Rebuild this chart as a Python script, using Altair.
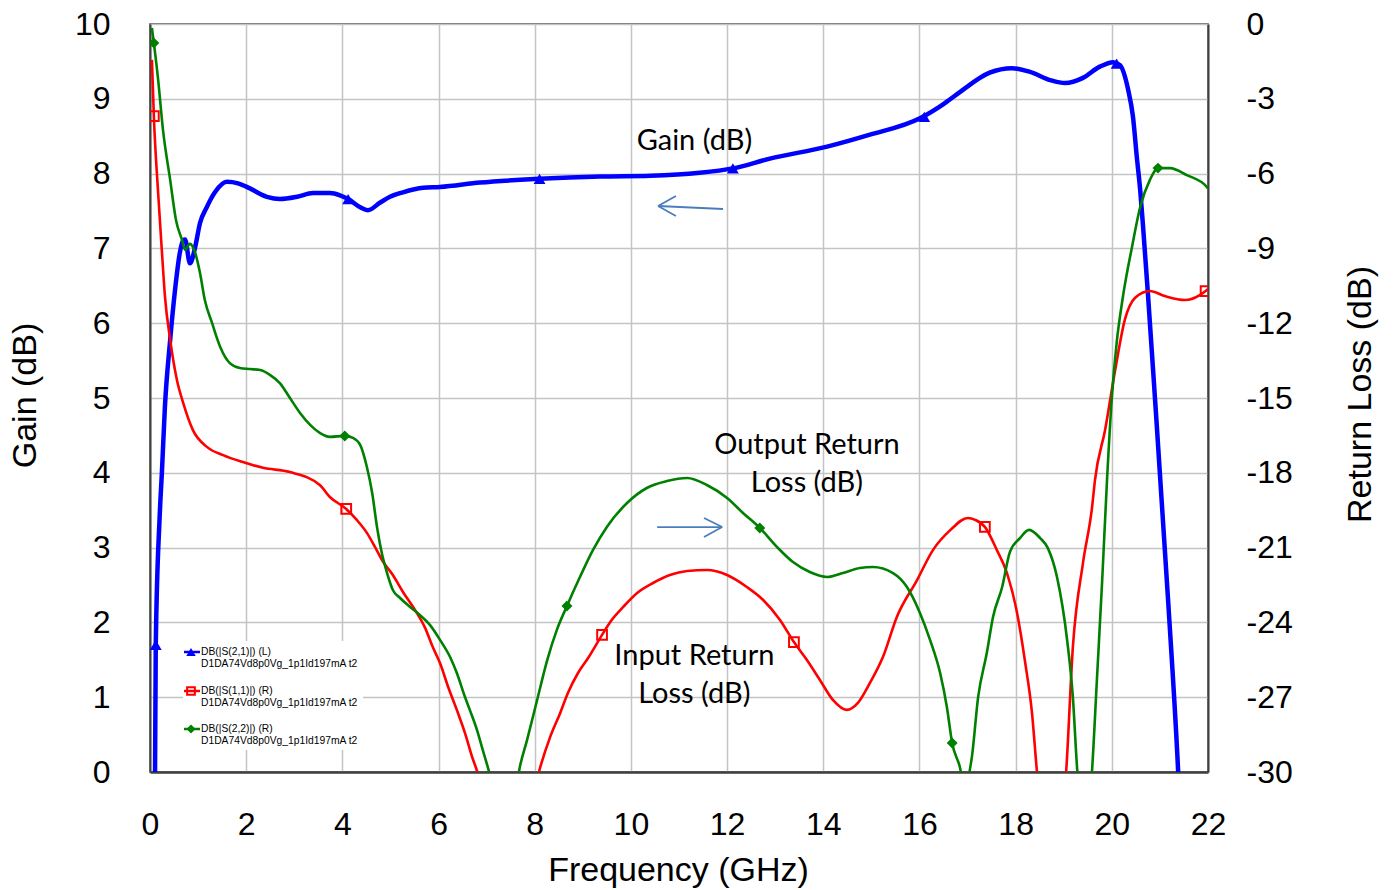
import altair as alt
import pandas as pd

# ---------------- data ----------------
s21_f = [0.10, 0.12, 0.20, 0.25, 0.31, 0.42, 0.52, 0.62, 0.69, 0.73, 0.83, 0.94, 1.04, 1.18, 1.35,
         1.60, 1.83, 2.02, 2.43, 2.70, 3.06, 3.39, 3.74, 3.95, 4.12, 4.37, 4.53, 4.78, 4.99, 5.26,
         5.68, 6.03, 6.86, 8.10, 9.36, 10.40, 11.43, 12.12, 12.89, 14.08, 14.97, 16.01, 16.50, 16.84,
         17.46, 17.92, 18.30, 18.72, 19.03, 19.40, 19.75, 20.03, 20.17, 20.34, 20.44, 20.52, 20.59,
         20.65, 20.75, 20.90, 21.17, 21.38, 21.45]
s21_db = [-0.5, 1.7, 3.4, 4.04, 4.88, 5.78, 6.44, 6.94, 7.11, 7.12, 6.80, 7.02, 7.34, 7.55, 7.75,
          7.89, 7.87, 7.82, 7.69, 7.66, 7.69, 7.74, 7.74, 7.71, 7.66, 7.55, 7.51, 7.61, 7.69, 7.75,
          7.81, 7.82, 7.88, 7.93, 7.96, 7.97, 8.01, 8.07, 8.20, 8.36, 8.52, 8.74, 8.93, 9.09,
          9.35, 9.41, 9.36, 9.25, 9.21, 9.28, 9.43, 9.49, 9.45, 9.12, 8.76, 8.22, 7.78,
          7.29, 6.40, 4.97, 2.30, 0.0, -1.0]

s11_f = [0.04, 0.08, 0.17, 0.25, 0.31, 0.42, 0.56, 0.69, 0.89, 1.19, 1.52, 1.93, 2.35, 2.91, 3.53,
         3.74, 4.08, 4.30, 4.51, 4.68, 4.85, 5.05, 5.26, 5.51, 5.72, 5.88, 6.03, 6.20, 6.38, 6.55,
         6.72, 6.78, 6.95, 7.40, 7.90, 8.11, 8.32, 8.53, 8.69, 8.90, 9.11, 9.40, 9.57, 9.84, 10.13,
         10.46, 10.81, 11.17, 11.58, 12.00, 12.41, 12.75, 13.10, 13.39, 13.66, 13.93, 14.20, 14.49,
         14.72, 14.97, 15.24, 15.53, 15.95, 16.28, 16.64, 17.01, 17.16, 17.36, 17.61, 17.82, 18.03,
         18.20, 18.34, 18.44, 18.60, 18.90, 19.05, 19.19, 19.40, 19.59, 19.65, 19.86, 20.07, 20.27,
         20.48, 20.79, 21.10, 21.52, 21.83, 21.95, 22.0]
s11_db = [-1.44, -3.69, -6.8, -9.2, -10.9, -12.67, -14.28, -15.2, -16.28, -16.97, -17.29, -17.57,
          -17.8, -17.97, -18.49, -18.97, -19.45, -19.89, -20.41, -20.98, -21.58, -22.1, -22.78, -23.5,
          -24.22, -24.99, -25.63, -26.59, -27.51, -28.44, -29.52, -29.84, -31.0, -33.5, -31.5, -29.84,
          -28.6, -27.63, -26.83, -26.03, -25.43, -24.5, -23.98, -23.38, -22.82, -22.42, -22.1, -21.94,
          -21.9, -22.1, -22.58, -23.1, -23.9, -24.79, -25.51, -26.31, -27.11, -27.51, -27.23, -26.43,
          -25.39, -23.78, -22.30, -21.10, -20.30, -19.81, -19.89, -20.17, -21.10, -22.02, -23.62,
          -25.63, -27.63, -29.92, -33.0, -33.0, -30.0, -24.99, -21.62, -19.37, -18.29, -16.28, -13.88,
          -11.87, -10.99, -10.71, -10.91, -11.07, -10.87, -10.71, -10.63]

s22_f = [0.04, 0.08, 0.17, 0.27, 0.42, 0.54, 0.665, 0.73, 0.83, 0.94, 1.04, 1.14, 1.29, 1.46, 1.66,
         1.87, 2.08, 2.29, 2.50, 2.70, 2.91, 3.12, 3.33, 3.53, 3.74, 4.05, 4.22, 4.37, 4.51, 4.62,
         4.72, 4.82, 4.93, 5.05, 5.20, 5.41, 5.61, 5.82, 6.03, 6.24, 6.38, 6.55, 6.65, 6.80, 6.92,
         7.03, 7.20, 7.50, 7.69, 7.84, 8.05, 8.26, 8.46, 8.67, 8.94, 9.21, 9.50, 9.92, 10.33, 10.75,
         11.17, 11.58, 12.00, 12.33, 12.68, 13.04, 13.37, 13.72, 14.08, 14.41, 14.76, 15.03, 15.45,
         15.74, 16.01, 16.22, 16.43, 16.57, 16.68, 16.84, 16.93, 17.09, 17.22, 17.40, 17.53, 17.72,
         17.88, 18.09, 18.28, 18.51, 18.67, 18.86, 19.07, 19.19, 19.28, 19.40, 19.50, 19.59, 19.69,
         19.80, 19.90, 20.00, 20.10, 20.23, 20.42, 20.59, 20.79, 20.96, 21.21, 21.56, 21.98, 22.0]
s22_db = [-0.16, -0.76, -2.25, -4.25, -6.26, -7.86, -8.66, -9.06, -8.82, -9.18, -9.99, -11.07,
          -11.99, -12.95, -13.6, -13.8, -13.84, -13.88, -14.08, -14.4, -15.0, -15.6, -16.08, -16.4,
          -16.56, -16.52, -16.6, -16.88, -17.77, -18.81, -20.17, -21.22, -22.02, -22.7, -23.02,
          -23.38, -23.7, -24.1, -24.7, -25.39, -26.03, -26.99, -27.51, -28.32, -29.12, -29.84, -31.0,
          -32.0, -29.8, -28.72, -27.11, -25.51, -24.3, -23.34, -22.18, -21.1, -20.17, -19.21, -18.61,
          -18.33, -18.21, -18.49, -19.01, -19.61, -20.21, -20.98, -21.58, -21.98, -22.18, -22.02,
          -21.82, -21.78, -22.02, -22.58, -23.62, -24.7, -26.03, -27.39, -28.84, -29.8, -30.6, -29.4,
          -27.0, -25.23, -23.78, -22.58, -21.18, -20.62, -20.29, -20.62, -21.02, -22.18, -24.7, -27.0,
          -29.9, -32.0, -32.0, -29.9, -26.3, -22.3, -18.3, -15.0, -12.8, -10.95, -8.94, -7.34, -6.26,
          -5.78, -5.78, -6.06, -6.54, -6.6]

# marker positions
m21_f = [0.12, 4.12, 8.10, 12.12, 16.10, 20.10]
m21_db = [1.70, 7.66, 7.93, 8.07, 8.76, 9.47]
m11_f = [0.08, 4.08, 9.40, 13.39, 17.36, 21.95]
m11_db = [-3.69, -19.45, -24.50, -24.79, -20.17, -10.71]
m22_f = [0.08, 4.05, 8.67, 12.68, 16.68, 20.96]
m22_db = [-0.76, -16.52, -23.34, -20.21, -28.84, -5.78]

# annotation text (gain-axis units)
note_text = ["Gain (dB)", "Output Return", "Loss (dB)", "Input Return", "Loss (dB)"]
note_f = [11.32, 13.66, 13.66, 11.32, 11.32]
note_g = [8.316, 4.251, 3.743, 1.430, 0.922]

# arrows (gain-axis units), each segment two points
arrow_seg = ["a1", "a1", "a2", "a2", "a3", "a3", "b1", "b1", "b2", "b2", "b3", "b3"]
arrow_f = [11.915, 10.565, 10.565, 10.936, 10.565, 10.936,
           10.546, 11.898, 11.898, 11.52, 11.898, 11.52]
arrow_g = [7.527, 7.567, 7.567, 7.701, 7.567, 7.433,
           3.275, 3.275, 3.275, 3.396, 3.275, 3.142]

legend_name = ["DB(|S(2,1)|) (L)", "DB(|S(1,1)|) (R)", "DB(|S(2,2)|) (R)"]
legend_sub = "D1DA74Vd8p0Vg_1p1Id197mA t2"
x_ticks = list(range(0, 23, 2))
gain_ticks = list(range(0, 11))
rl_ticks = list(range(-30, 1, 3))

BLUE, RED, GREEN = "#0000ff", "#ff0000", "#008000"
FONT = "Liberation Sans"

df21 = pd.DataFrame({"f": s21_f, "v": s21_db})
df11 = pd.DataFrame({"f": s11_f, "v": s11_db})
df22 = pd.DataFrame({"f": s22_f, "v": s22_db})
dm21 = pd.DataFrame({"f": m21_f, "v": m21_db})
dm11 = pd.DataFrame({"f": m11_f, "v": m11_db})
dm22 = pd.DataFrame({"f": m22_f, "v": m22_db})
dnote = pd.DataFrame({"f": note_f, "v": note_g, "t": note_text})
darrow = pd.DataFrame({"f": arrow_f, "v": arrow_g, "s": arrow_seg})

x_enc = alt.X("f:Q", scale=alt.Scale(domain=[0, 22], nice=False, zero=False),
              axis=alt.Axis(values=x_ticks, title="Frequency (GHz)", grid=True, ticks=False,
                            tickSize=0, labelPadding=37, labelFontSize=32, labelFont=FONT,
                            labelColor="black", titleFont=FONT, titleFontSize=34,
                            titleFontWeight="normal", titleColor="black", titleX=528, titleY=98,
                            titleBaseline="middle", titleAlign="center",
                            domainColor="#404040", domainWidth=2.5,
                            gridColor="#c4c4c4", gridWidth=1.5, labelFlush=False))

y_gain = alt.Y("v:Q", scale=alt.Scale(domain=[0, 10], nice=False, zero=False),
               axis=alt.Axis(orient="left", values=gain_ticks, title="Gain (dB)", grid=True,
                             ticks=False, tickSize=0, labelPadding=40, labelFontSize=32,
                             labelFont=FONT, labelColor="black", titleFont=FONT, titleFontSize=34,
                             titleFontWeight="normal", titleColor="black", titleAngle=270,
                             titleX=-125, titleY=371, titleBaseline="middle", titleAlign="center",
                             domainColor="#404040", domainWidth=2,
                             gridColor="#c4c4c4", gridWidth=1.5, labelFlush=False))

y_rl = alt.Y("v:Q", scale=alt.Scale(domain=[-30, 0], nice=False, zero=False),
             axis=alt.Axis(orient="right", values=rl_ticks, title="Return Loss (dB)", grid=False,
                           ticks=False, tickSize=0, labelPadding=38, labelFontSize=32,
                           labelExpr="'' + datum.value",
                           labelFont=FONT, labelColor="black", titleFont=FONT, titleFontSize=34,
                           titleFontWeight="normal", titleColor="black", titleAngle=270,
                           titleX=152, titleY=370, titleBaseline="middle", titleAlign="center",
                           domainColor="#404040", domainWidth=2, labelFlush=False))

# ---------------- gain layer ----------------
legend_bg = alt.Chart(pd.DataFrame({"k": [0]})).mark_rect(fill="white").encode(
    x=alt.value(33), x2=alt.value(213), y=alt.value(617), y2=alt.value(726))

blue_line = alt.Chart(df21).mark_line(color=BLUE, strokeWidth=4.5, clip=True,
                                      interpolate="monotone").encode(x=x_enc, y=y_gain)
blue_pts = alt.Chart(dm21).mark_point(shape="triangle-up", filled=True, opacity=1, size=140,
                                      color=BLUE, clip=True).encode(x=x_enc, y=y_gain)
notes = alt.Chart(dnote).mark_text(font="Lato", fontSize=29, align="center",
                                   baseline="alphabetic", color="black").encode(
    x=x_enc, y=y_gain, text="t:N")
arrows = alt.Chart(darrow).mark_line(color="#4a7ebb", strokeWidth=1.8).encode(
    x=x_enc, y=y_gain, detail="s:N")

gain_layer = alt.layer(legend_bg, blue_line, blue_pts, notes, arrows)

# ---------------- return-loss layer ----------------
red_line = alt.Chart(df11).mark_line(color=RED, strokeWidth=2.6, clip=True,
                                     interpolate="monotone").encode(x=x_enc, y=y_rl)
red_pts = alt.Chart(dm11).mark_point(shape="square", filled=False, size=95, strokeWidth=2,
                                     color=RED, opacity=1, clip=True).encode(x=x_enc, y=y_rl)
green_line = alt.Chart(df22).mark_line(color=GREEN, strokeWidth=2.6, clip=True,
                                       interpolate="monotone").encode(x=x_enc, y=y_rl)
green_pts = alt.Chart(dm22).mark_point(shape="diamond", filled=True, size=120, color=GREEN,
                                       opacity=1, clip=True).encode(x=x_enc, y=y_rl)

# ---------------- manual legend (pixel positions) ----------------
leg_layers = []
leg_colors = [BLUE, RED, GREEN]
leg_shapes = ["triangle-up", "square", "diamond"]
leg_filled = [True, False, True]
leg_sizes = [90, 60, 80]
leg_y = [628, 667, 705]
for i in range(3):
    yy = leg_y[i]
    base = alt.Chart(pd.DataFrame({"t": [legend_name[i]]}))
    leg_layers.append(base.mark_rule(color=leg_colors[i], strokeWidth=2.5).encode(
        x=alt.value(34), x2=alt.value(50), y=alt.value(yy)))
    leg_layers.append(base.mark_point(shape=leg_shapes[i], filled=leg_filled[i], opacity=1,
                                      size=leg_sizes[i], strokeWidth=2, color=leg_colors[i]).encode(
        x=alt.value(41), y=alt.value(yy)))
    leg_layers.append(base.mark_text(font=FONT, fontSize=10.3, align="left", baseline="middle",
                                     color="black").encode(
        x=alt.value(51), y=alt.value(yy), text="t:N"))
    leg_layers.append(alt.Chart(pd.DataFrame({"t": [legend_sub]})).mark_text(
        font=FONT, fontSize=10.3, align="left", baseline="middle", color="black").encode(
        x=alt.value(51), y=alt.value(yy + 12), text="t:N"))

rl_layer = alt.layer(red_line, green_line, red_pts, green_pts, *leg_layers)

chart = alt.layer(gain_layer, rl_layer).resolve_scale(y="independent").properties(
    width=1058, height=748,
    padding={"left": 150, "top": 24, "right": 186, "bottom": 118},
    autosize=alt.AutoSizeParams(type="none"),
    background="white",
).configure_view(stroke="#404040", strokeWidth=1.5)

chart.save("out.html", embed_options={"renderer": "svg", "actions": False})
